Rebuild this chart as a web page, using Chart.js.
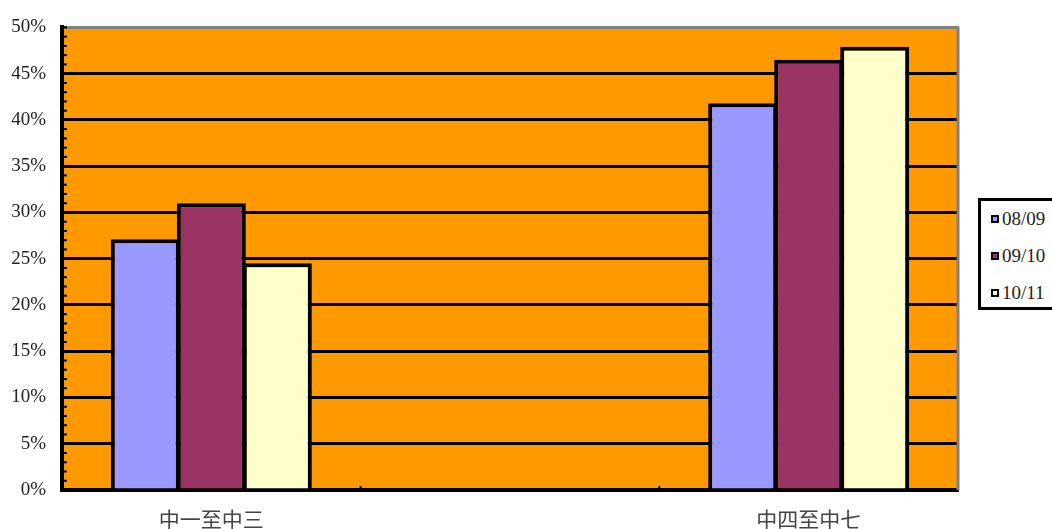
<!DOCTYPE html>
<html>
<head>
<meta charset="utf-8">
<script src="https://cdn.jsdelivr.net/npm/chart.js@4"></script>
<style>
  body { margin: 0; background: #fff; overflow: hidden; }
  #wrap { position: relative; width: 1052px; height: 529px; overflow: hidden; }
  #legend {
    position: absolute; left: 978px; top: 198px; width: 90px; height: 106px;
    border: 3px solid #000; background: #fff;
    font-family: "Liberation Serif", serif; font-size: 19px; color: #222;
  }
  #legend div { position: absolute; left: 10px; height: 20px; line-height: 20px; white-space: nowrap; }
  #legend span.sw {
    display: inline-block; width: 4px; height: 4px; border: 2px solid #000;
    vertical-align: middle; margin-right: 3px; position: relative; top: -2px;
  }
</style>
</head>
<body>
<div id="wrap">
  <canvas id="chart" width="1052" height="529"></canvas>
  <div id="legend"></div>
</div>
<script>
// Kategorier (mittenkategorin är tom i originalet)
const kategorier = ['中一至中三', '', '中四至中七'];
const serieNamn = ['08/09', '09/10', '10/11'];
const varden0809 = [27.1, null, 41.8];
const varden0910 = [31.0, null, 46.5];
const varden1011 = [24.5, null, 47.9];
const serieFarger = ['#9999FF', '#993366', '#FFFFCC'];
const yTicks = [0, 5, 10, 15, 20, 25, 30, 35, 40, 45, 50];

const serieData = [varden0809, varden0910, varden1011];

// Små stödstreck på y-axeln och ram till höger
const extraPlugin = {
    id: 'extra',
    afterDraw(chart) {
        const ctx = chart.ctx;
        const area = chart.chartArea;
        const y = chart.scales.y;
        const x = chart.scales.x;
        ctx.save();
        // höger grå kant
        ctx.strokeStyle = '#808080';
        ctx.lineWidth = 3;
        ctx.beginPath();
        ctx.moveTo(area.right, area.top - 1);
        ctx.lineTo(area.right, area.bottom);
        ctx.stroke();
        // mindre streck varje procent
        ctx.strokeStyle = '#000';
        ctx.lineWidth = 2;
        for (let v = 0; v <= 50; v++) {
            const py = y.getPixelForValue(v);
            ctx.beginPath();
            ctx.moveTo(area.left, py);
            ctx.lineTo(area.left + 5, py);
            ctx.stroke();
        }
        // streck mellan kategorier på x-axeln
        for (let i = 0; i < kategorier.length - 1; i++) {
            const px = (x.getPixelForValue(i) + x.getPixelForValue(i + 1)) / 2;
            ctx.beginPath();
            ctx.moveTo(px, area.bottom);
            ctx.lineTo(px, area.bottom - 4);
            ctx.stroke();
        }
        ctx.restore();
    }
};

const bgPlugin = {
    id: 'bg',
    beforeDraw(chart) {
        const ctx = chart.ctx;
        const a = chart.chartArea;
        ctx.save();
        ctx.fillStyle = '#FF9900';
        ctx.fillRect(a.left, a.top, a.right - a.left, a.bottom - a.top);
        ctx.restore();
    }
};

new Chart(document.getElementById('chart'), {
    type: 'bar',
    data: {
        labels: kategorier,
        datasets: serieNamn.map((namn, i) => ({
            label: namn,
            data: serieData[i],
            backgroundColor: serieFarger[i],
            borderColor: '#000',
            borderWidth: 4,
            borderSkipped: 'bottom',
            categoryPercentage: 0.663,
            barPercentage: 1.045
        }))
    },
    options: {
        responsive: false,
        animation: false,
        layout: { padding: { top: 25, right: 94, left: 0, bottom: 0 } },
        plugins: { legend: { display: false }, tooltip: { enabled: false } },
        scales: {
            x: {
                afterFit(scale) { scale.height = 39; },
                grid: { display: false, drawTicks: false },
                border: { display: true, color: '#000', width: 4 },
                ticks: {
                    padding: 16,
                    color: '#444',
                    font: { family: '"Noto Sans CJK TC", serif', size: 21 }
                }
            },
            y: {
                min: 0,
                max: 50,
                afterFit(scale) { scale.width = 62; },
                afterBuildTicks(scale) { scale.ticks = yTicks.map(v => ({ value: v })); },
                grid: {
                    drawTicks: false,
                    lineWidth: 3,
                    color: ctx => (ctx.tick && ctx.tick.value === 50) ? '#808080' : '#000'
                },
                border: { display: true, color: '#000', width: 4 },
                ticks: {
                    padding: 16,
                    color: '#222',
                    font: { family: '"Liberation Serif", serif', size: 19 },
                    callback: v => v + '%'
                }
            }
        }
    },
    plugins: [bgPlugin, extraPlugin]
});

// Förklaring
const legend = document.getElementById('legend');
serieNamn.forEach((namn, i) => {
    const rad = document.createElement('div');
    rad.style.top = (8 + i * 37) + 'px';
    rad.innerHTML = '<span class="sw" style="background:' + serieFarger[i] + '"></span>' + namn;
    legend.appendChild(rad);
});
</script>
</body>
</html>
